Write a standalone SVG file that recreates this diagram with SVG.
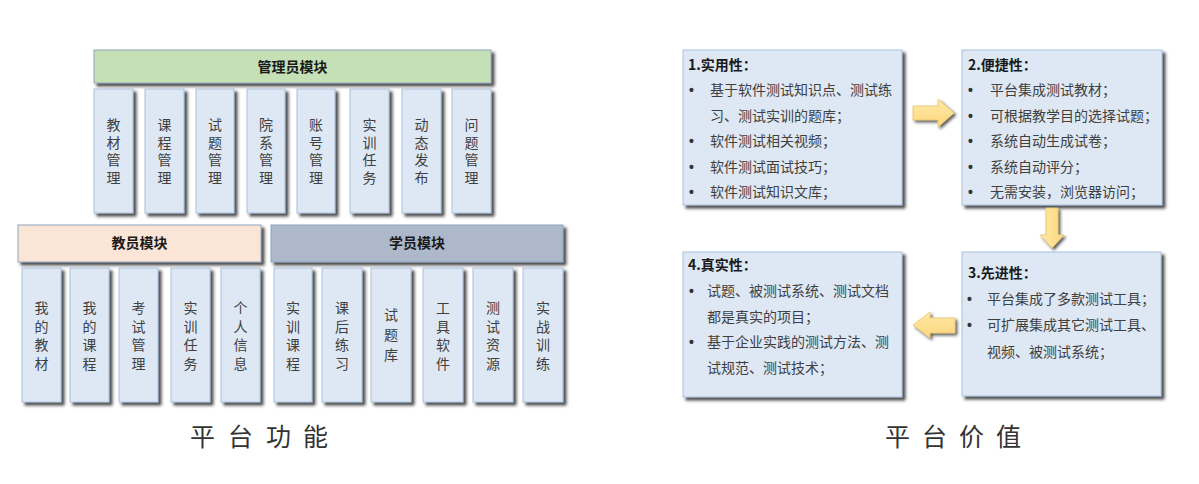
<svg xmlns="http://www.w3.org/2000/svg" width="1199" height="484" viewBox="0 0 1199 484">
<defs>
<filter id="sh" x="-20%" y="-20%" width="150%" height="150%">
<feDropShadow dx="3" dy="3" stdDeviation="1.4" flood-color="#2a2a2a" flood-opacity="0.85"/>
</filter>
<filter id="sha" x="-30%" y="-30%" width="170%" height="170%">
<feDropShadow dx="2" dy="2" stdDeviation="1.5" flood-color="#333" flood-opacity="0.8"/>
</filter>
<linearGradient id="ag" x1="0" y1="0" x2="0" y2="1">
<stop offset="0" stop-color="#FFE9A6"/>
<stop offset="1" stop-color="#FCD77E"/>
</linearGradient>
<linearGradient id="agv" x1="0" y1="0" x2="1" y2="0">
<stop offset="0" stop-color="#FFE9A6"/>
<stop offset="1" stop-color="#FCD77E"/>
</linearGradient>
</defs>
<style>
.box{fill:#DEE8F4;stroke:#A9C0DD;stroke-width:1;filter:url(#sh)}
.hd{stroke:#8EA6C4;stroke-width:1;filter:url(#sh)}
.ht{font-family:"Noto Sans CJK SC","Liberation Sans",sans-serif;font-size:14px;font-weight:bold;fill:#1a1a1a;text-anchor:middle}
.cv{font-family:"Noto Sans CJK SC","Liberation Sans",sans-serif;font-size:14px;fill:#404040;text-anchor:middle;writing-mode:vertical-rl}
.c1{letter-spacing:3.5px}
.c2{letter-spacing:4.5px}
.c3{letter-spacing:6px}
.vt{font-family:"Noto Sans CJK SC","Liberation Sans",sans-serif;font-size:14px;fill:#404040}
.bu{font-family:"Liberation Sans",sans-serif;font-size:14px;font-weight:bold;fill:#333333}
.vh{font-family:"Noto Sans CJK SC","Liberation Sans",sans-serif;font-size:14px;font-weight:bold;fill:#1a1a1a}
.bt{font-family:"Noto Sans CJK SC","Liberation Sans",sans-serif;font-size:25px;fill:#333333}
.arr{stroke:#E7C56F;stroke-width:0.8;filter:url(#sha)}
</style>
<rect width="1199" height="484" fill="#ffffff"/>

<!-- Left: platform functions -->
<g id="admin">
<rect class="hd" x="94" y="50" width="397" height="33" fill="#C5E0B4" stroke="#9DBB8A"/>
<text class="ht" x="292.5" y="72">管理员模块</text>
</g>
<g id="admin-items">
<g id="a1"><rect class="box" x="94" y="89" width="39" height="124"/><text class="cv c1" x="113.5" y="153">教材管理</text></g>
<g id="a2"><rect class="box" x="145" y="89" width="39" height="124"/><text class="cv c1" x="164.5" y="153">课程管理</text></g>
<g id="a3"><rect class="box" x="196" y="89" width="38" height="124"/><text class="cv c1" x="215" y="153">试题管理</text></g>
<g id="a4"><rect class="box" x="247" y="89" width="38" height="124"/><text class="cv c1" x="266" y="153">院系管理</text></g>
<g id="a5"><rect class="box" x="297" y="89" width="38" height="124"/><text class="cv c1" x="316" y="153">账号管理</text></g>
<g id="a6"><rect class="box" x="350" y="89" width="39" height="124"/><text class="cv c1" x="369.5" y="153">实训任务</text></g>
<g id="a7"><rect class="box" x="402" y="89" width="39" height="124"/><text class="cv c1" x="421.5" y="153">动态发布</text></g>
<g id="a8"><rect class="box" x="452" y="89" width="39" height="124"/><text class="cv c1" x="471.5" y="153">问题管理</text></g>
</g>

<g id="teacher">
<rect class="hd" x="18" y="225" width="243" height="37" fill="#FBE5D6" stroke="#C9B8AC"/>
<text class="ht" x="139.5" y="248">教员模块</text>
</g>
<g id="teacher-items">
<g id="t1"><rect class="box" x="22" y="268" width="39" height="134"/><text class="cv c2" x="41.5" y="338">我的教材</text></g>
<g id="t2"><rect class="box" x="70" y="268" width="39" height="134"/><text class="cv c2" x="89.5" y="338">我的课程</text></g>
<g id="t3"><rect class="box" x="119" y="268" width="39" height="134"/><text class="cv c2" x="138.5" y="338">考试管理</text></g>
<g id="t4"><rect class="box" x="171" y="268" width="39" height="134"/><text class="cv c2" x="190.5" y="338">实训任务</text></g>
<g id="t5"><rect class="box" x="221" y="268" width="39" height="134"/><text class="cv c2" x="240.5" y="338">个人信息</text></g>
</g>

<g id="student">
<rect class="hd" x="271" y="225" width="292" height="37" fill="#ADB9CA" stroke="#8596AE"/>
<text class="ht" x="417" y="248">学员模块</text>
</g>
<g id="student-items">
<g id="s1"><rect class="box" x="274" y="268" width="38" height="134"/><text class="cv c2" x="293" y="338">实训课程</text></g>
<g id="s2"><rect class="box" x="322" y="268" width="40" height="134"/><text class="cv c2" x="342" y="338">课后练习</text></g>
<g id="s3"><rect class="box" x="371" y="268" width="40" height="134"/><text class="cv c3" x="391" y="338">试题库</text></g>
<g id="s4"><rect class="box" x="423" y="268" width="40" height="134"/><text class="cv c2" x="443" y="338">工具软件</text></g>
<g id="s5"><rect class="box" x="473" y="268" width="40" height="134"/><text class="cv c2" x="493" y="338">测试资源</text></g>
<g id="s6"><rect class="box" x="523" y="268" width="40" height="134"/><text class="cv c2" x="543" y="338">实战训练</text></g>
</g>

<text class="bt" x="190 228 266 303" y="446">平台功能</text>

<!-- Right: platform value -->
<g id="v1">
<rect class="box" x="683" y="50" width="219" height="155"/>
<text class="vh" x="688" y="70">1.实用性：</text>
<text class="bu" x="689" y="95">•</text><text class="vt" x="710" y="95">基于软件测试知识点、测试练</text>
<text class="vt" x="710" y="121">习、测试实训的题库；</text>
<text class="bu" x="689" y="146">•</text><text class="vt" x="710" y="146">软件测试相关视频；</text>
<text class="bu" x="689" y="172">•</text><text class="vt" x="710" y="172">软件测试面试技巧；</text>
<text class="bu" x="689" y="197">•</text><text class="vt" x="710" y="197">软件测试知识文库；</text>
</g>
<g id="v2">
<rect class="box" x="962" y="50" width="200" height="155"/>
<text class="vh" x="968" y="70">2.便捷性：</text>
<text class="bu" x="968" y="95">•</text><text class="vt" x="990" y="95">平台集成测试教材；</text>
<text class="bu" x="968" y="121">•</text><text class="vt" x="990" y="121">可根据教学目的选择试题；</text>
<text class="bu" x="968" y="146">•</text><text class="vt" x="990" y="146">系统自动生成试卷；</text>
<text class="bu" x="968" y="172">•</text><text class="vt" x="990" y="172">系统自动评分；</text>
<text class="bu" x="968" y="197">•</text><text class="vt" x="990" y="197">无需安装，浏览器访问；</text>
</g>
<g id="v3">
<rect class="box" x="962" y="252" width="199" height="144"/>
<text class="vh" x="968" y="278">3.先进性：</text>
<text class="bu" x="967" y="304">•</text><text class="vt" x="987" y="304">平台集成了多款测试工具；</text>
<text class="bu" x="967" y="330">•</text><text class="vt" x="987" y="330">可扩展集成其它测试工具、</text>
<text class="vt" x="987" y="357">视频、被测试系统；</text>
</g>
<g id="v4">
<rect class="box" x="683" y="252" width="219" height="145"/>
<text class="vh" x="688" y="270">4.真实性：</text>
<text class="bu" x="689" y="296">•</text><text class="vt" x="707" y="296">试题、被测试系统、测试文档</text>
<text class="vt" x="707" y="322">都是真实的项目；</text>
<text class="bu" x="689" y="347">•</text><text class="vt" x="707" y="347">基于企业实践的测试方法、测</text>
<text class="vt" x="707" y="373">试规范、测试技术；</text>
</g>

<g id="connectors">
<path class="arr" fill="url(#ag)" d="M913 106 L938 106 L938 99 L954 113 L938 127 L938 120 L913 120 Z"/>
<path class="arr" fill="url(#agv)" d="M1046 208 L1058 208 L1058 235 L1064 235 L1052 248 L1040 235 L1046 235 Z"/>
<path class="arr" fill="url(#ag)" d="M955 318 L930 318 L930 312 L913 325 L930 338 L930 333 L955 333 Z"/>
</g>

<text class="bt" x="885 922 959 996" y="446">平台价值</text>
</svg>
